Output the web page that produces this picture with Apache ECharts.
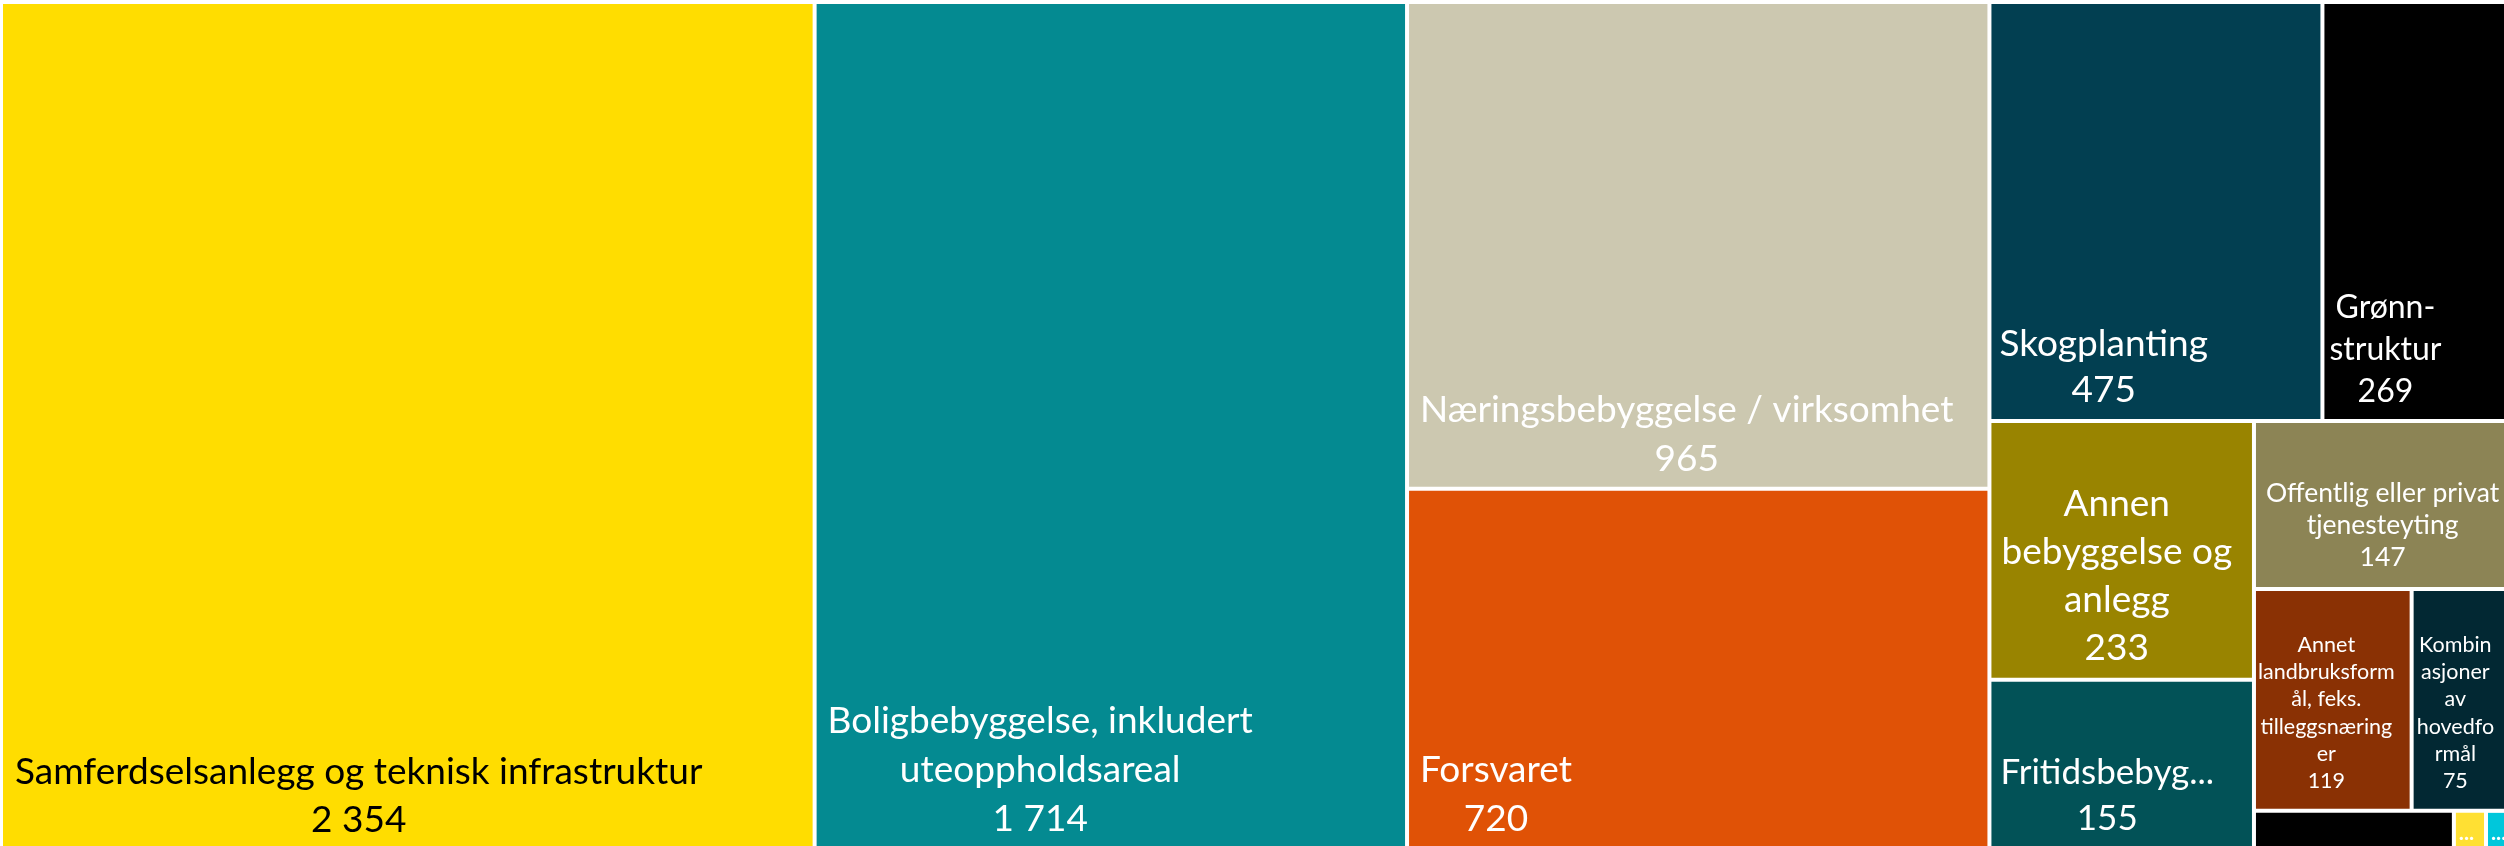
<!DOCTYPE html>
<html>
<head>
<meta charset="utf-8">
<style>
  html, body { margin: 0; padding: 0; background: #fff; }
  #chart { width: 2504px; height: 846px; }
</style>
<script src="https://cdn.jsdelivr.net/npm/echarts@6/dist/echarts.min.js"></script>
</head>
<body>
<div id="chart"></div>
<script>
// arealformål og areal
const names = [
  'Samferdselsanlegg og teknisk infrastruktur',
  'Boligbebyggelse, inkludert uteoppholdsareal',
  'Næringsbebyggelse / virksomhet',
  'Forsvaret',
  'Skogplanting',
  'Grønnstruktur',
  'Annen bebyggelse og anlegg',
  'Fritidsbebyggelse',
  'Offentlig eller privat tjenesteyting',
  'Annet landbruksformål, feks. tilleggsnæringer',
  'Kombinasjoner av hovedformål',
  'Øvrig 1',
  'Øvrig 2',
  'Øvrig 3'
];
const values = [2354, 1714, 965, 720, 475, 269, 233, 155, 147, 119, 75, 28, 4.5, 3.5];
const colors = [
  '#FFDD00', '#048A91', '#CCC8B0', '#E05206', '#023F51', '#000000', '#998400',
  '#025257', '#8C8455', '#8A3104', '#022833', '#000000', '#FFE033', '#00C7DB'
];
const textColors = [
  '#000', '#fff', '#fff', '#fff', '#fff', '#fff', '#fff',
  '#fff', '#fff', '#fff', '#fff', '#fff', '#fff', '#fff'
];
// teksten slik den er brutt i cellene
const labelLines = [
  ['Samferdselsanlegg og teknisk infrastruktur'],
  ['Boligbebyggelse, inkludert', 'uteoppholdsareal'],
  ['Næringsbebyggelse / virksomhet'],
  ['Forsvaret'],
  ['Skogplanting'],
  ['Grønn-', 'struktur'],
  ['Annen', 'bebyggelse og', 'anlegg'],
  ['Fritidsbebyg...'],
  ['Offentlig eller privat', 'tjenesteyting'],
  ['Annet', 'landbruksform', 'ål, feks.', 'tilleggsnæring', 'er'],
  ['Kombin', 'asjoner', 'av', 'hovedfo', 'rmål'],
  [], ['...'], ['...']
];
const showValue = [true, true, true, true, true, true, true, true, true, true, true, false, false, false];
const fontSizes = [37, 37, 37, 37, 37, 32, 37, 35, 26.5, 21.5, 21.5, 21.5, 21.5, 21.5];
const lineHeights = [48, 49, 49, 49, 46, 42, 48, 46, 32, 27.3, 27.3, 27.3, 27.3, 27.3];
const padLeft = [12, 11, 11, 11, 8, 5, 10, 9, 10, 2, 3, 4, 3, 3];
const padBottom = [6, 6, 3, 6, 6, 6, 6, 8, 14, 14, 14, 3, 3, 3];

const fmt = (v) => String(v).replace(/\B(?=(\d{3})+(?!\d))/g, ' ');

// måler tekstblokken, slik at linjene kan sentreres i blokken
const ctx = document.createElement('canvas').getContext('2d');
const blockWidth = (lines, size) => {
  ctx.font = size + 'px Lato';
  return Math.max(0, ...lines.map((l) => ctx.measureText(l).width));
};

const data = names.map((name, i) => {
  const lines = showValue[i] ? labelLines[i].concat(fmt(values[i])) : labelLines[i];
  const bw = blockWidth(lines, fontSizes[i]);
  return {
    name: name,
    value: values[i],
    itemStyle: { color: colors[i] },
    label: {
      show: lines.length > 0,
      formatter: lines.join('\n'),
      color: textColors[i],
      fontSize: fontSizes[i],
      fontWeight: lines.length === 1 && lines[0] === '...' ? 'bold' : 'normal',
      lineHeight: lineHeights[i],
      offset: [padLeft[i] + bw / 2, -padBottom[i]]
    }
  };
});

const myChart = echarts.init(document.getElementById('chart'));
myChart.setOption({
  animation: false,
  series: [
    {
      type: 'treemap',
      left: 3,
      top: 4,
      width: 2506,
      height: 846,
      squareRatio: 1.18,
      roam: false,
      nodeClick: false,
      breadcrumb: { show: false },
      itemStyle: {
        borderWidth: 0,
        gapWidth: 4,
        borderColor: '#fff'
      },
      label: {
        show: true,
        position: 'insideBottomLeft',
        distance: 0,
        padding: 0,
        align: 'center',
        verticalAlign: 'bottom',
        fontFamily: 'Lato',
        overflow: 'none'
      },
      emphasis: { disabled: true },
      data: data
    }
  ]
});

window.addEventListener('resize', () => { myChart.resize(); });
</script>
</body>
</html>
